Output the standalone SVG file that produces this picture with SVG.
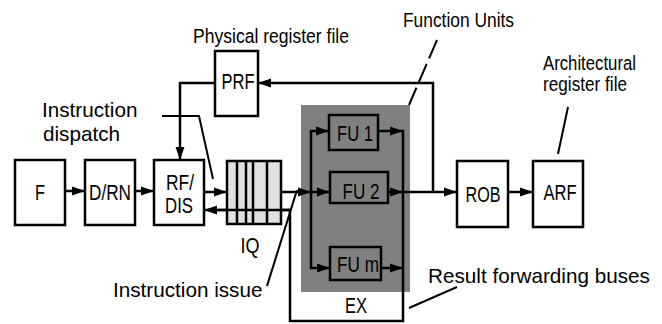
<svg xmlns="http://www.w3.org/2000/svg" width="662" height="324" viewBox="0 0 662 324">
<style>
.box{fill:#fff;stroke:#000;stroke-width:2.5}
.fu{fill:#808080;stroke:#000;stroke-width:2.5}
.ln{fill:none;stroke:#000;stroke-width:2.5}
.ld{fill:none;stroke:#000;stroke-width:2}
.n{font-family:"Liberation Sans",Arial,sans-serif;font-size:21.5px;fill:#000}
.s{font-family:"Liberation Sans",Arial,sans-serif;font-size:20.5px;fill:#000}
.r{font-family:"Liberation Sans",Arial,sans-serif;font-size:20.7px;fill:#000}
.c{text-anchor:middle}
</style>
<defs>
<marker id="ar" markerUnits="userSpaceOnUse" markerWidth="14" markerHeight="10" refX="13" refY="5" orient="auto">
<path d="M0,0.5 L13,5 L0,9.5 z" fill="#000"/>
</marker>
</defs>
<rect x="301" y="105" width="109" height="187" fill="#808080"/>
<g id="connectors">
<line class="ln" x1="65" y1="191" x2="85" y2="191" marker-end="url(#ar)"/>
<line class="ln" x1="135" y1="191" x2="154" y2="191" marker-end="url(#ar)"/>
<line class="ln" x1="204" y1="192" x2="227" y2="192" marker-end="url(#ar)"/>
<line class="ln" x1="281" y1="192" x2="311" y2="192" marker-end="url(#ar)"/>
<line class="ln" x1="311" y1="130" x2="311" y2="269"/>
<line class="ln" x1="310" y1="131" x2="329" y2="131" marker-end="url(#ar)"/>
<line class="ln" x1="311" y1="192" x2="330" y2="192" marker-end="url(#ar)"/>
<line class="ln" x1="310" y1="268" x2="330" y2="268" marker-end="url(#ar)"/>
<line class="ln" x1="378" y1="131" x2="403" y2="131" marker-end="url(#ar)"/>
<line class="ln" x1="388" y1="192" x2="403" y2="192" marker-end="url(#ar)"/>
<line class="ln" x1="381" y1="268" x2="403" y2="268" marker-end="url(#ar)"/>
<polyline class="ln" points="402,131 403,131 403,321 290,321 290,210"/>
<line class="ln" x1="291" y1="210" x2="204" y2="210" marker-end="url(#ar)"/>
<line class="ln" x1="403" y1="192" x2="457" y2="192" marker-end="url(#ar)"/>
<polyline class="ln" points="433,192 433,83 258,83" marker-end="url(#ar)"/>
<polyline class="ln" points="215,83 180,83 180,160" marker-end="url(#ar)"/>
<line class="ln" x1="508" y1="192" x2="533" y2="192" marker-end="url(#ar)"/>
<polyline class="ld" points="162,116 199,116 213,179"/>
<line class="ld" x1="267" y1="286" x2="297" y2="190"/>
<line class="ld" x1="437" y1="40" x2="409" y2="105" stroke-dasharray="20 6"/>
<line class="ld" x1="568" y1="107" x2="558" y2="154"/>
<line class="ld" x1="457" y1="287" x2="409" y2="308"/>
</g>
<g id="F"><rect class="box" x="15" y="160" width="50" height="65"/><text class="n c" x="40" y="200" textLength="10" lengthAdjust="spacingAndGlyphs">F</text></g>
<g id="DRN"><rect class="box" x="85" y="160" width="50" height="65"/><text class="n c" x="110" y="200" textLength="42" lengthAdjust="spacingAndGlyphs">D/RN</text></g>
<g id="RFDIS"><rect class="box" x="154" y="160" width="50" height="65"/><text class="n c" x="180" y="190" textLength="28" lengthAdjust="spacingAndGlyphs">RF/</text><text class="n c" x="179" y="213" textLength="28" lengthAdjust="spacingAndGlyphs">DIS</text></g>
<g id="IQ"><rect x="227" y="161" width="54" height="63" fill="#e0e0e0" stroke="#000" stroke-width="2.5"/>
<path class="ln" d="M237,161V224M246,161V224M253,161V224M267,161V224"/>
<text class="n c" x="250" y="253" textLength="19" lengthAdjust="spacingAndGlyphs">IQ</text></g>
<line class="ln" x1="291" y1="210" x2="218" y2="210"/>
<g id="PRF"><rect class="box" x="215" y="51" width="43" height="65"/><text class="n c" x="238" y="89" textLength="33" lengthAdjust="spacingAndGlyphs">PRF</text></g>
<g id="FU1"><rect class="fu" x="329" y="115" width="49" height="35"/><text class="n c" x="355" y="141" textLength="36" lengthAdjust="spacingAndGlyphs">FU 1</text></g>
<g id="FU2"><rect class="fu" x="330" y="172" width="58" height="31"/><text class="n c" x="361" y="199" textLength="37" lengthAdjust="spacingAndGlyphs">FU 2</text></g>
<g id="FUm"><rect class="fu" x="330" y="247" width="51" height="33"/><text class="n c" x="358" y="272" textLength="42" lengthAdjust="spacingAndGlyphs">FU m</text></g>
<g id="ROB"><rect class="box" x="457" y="161" width="51" height="66"/><text class="n c" x="483" y="202" textLength="35" lengthAdjust="spacingAndGlyphs">ROB</text></g>
<g id="ARF"><rect class="box" x="533" y="161" width="50" height="66"/><text class="n c" x="560" y="200" textLength="33" lengthAdjust="spacingAndGlyphs">ARF</text></g>
<g id="labels">
<text class="s" x="193" y="43" textLength="156" lengthAdjust="spacingAndGlyphs">Physical register file</text>
<text class="s" x="403" y="27" textLength="111" lengthAdjust="spacingAndGlyphs">Function Units</text>
<text class="s" x="543" y="70" textLength="93" lengthAdjust="spacingAndGlyphs">Architectural</text>
<text class="s" x="543" y="91" textLength="84" lengthAdjust="spacingAndGlyphs">register file</text>
<text class="r" x="42" y="117">Instruction</text>
<text class="r" x="43" y="141">dispatch</text>
<text class="r" x="113" y="297">Instruction issue</text>
<text class="r" x="428" y="283">Result forwarding buses</text>
<text class="n c" x="356" y="313" textLength="22" lengthAdjust="spacingAndGlyphs">EX</text>
</g>
</svg>
